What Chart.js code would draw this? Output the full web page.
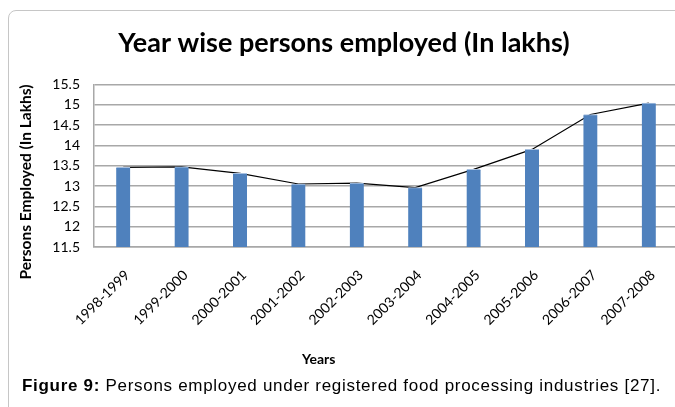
<!DOCTYPE html>
<html>
<head>
<meta charset="utf-8">
<script src="https://cdn.jsdelivr.net/npm/chart.js@4.4.0/dist/chart.umd.min.js"></script>
<style>
    body { margin: 0; width: 675px; height: 407px; overflow: hidden; background: #fff; position: relative; }
    #box { position: absolute; left: 8px; top: 10px; width: 700px; height: 420px; border: 1px solid #c6c6c6; border-radius: 8px; }
    #myChart { position: absolute; left: 0; top: 0; }
    #xtitle { position: absolute; left: 302px; top: 350px; font: bold 14px Lato, sans-serif; color: #000; }
    #ytitle { position: absolute; left: 25px; top: 183px; width: 240px; margin-left: -120px; margin-top: -10px; line-height: 20px;
        text-align: center; transform: rotate(-90deg); font: bold 15.5px Lato, sans-serif; color: #000; white-space: nowrap; }
    #caption { position: absolute; left: 22px; top: 376px; font: 17px "Liberation Sans", Arial, sans-serif; letter-spacing: 0.7px; color: #000; white-space: nowrap; }
</style>
</head>
<body>
<div id="box"></div>
<canvas id="myChart" width="690" height="407"></canvas>
<div id="xtitle">Years</div>
<div id="ytitle">Persons Employed (In Lakhs)</div>
<div id="caption"><b>Figure 9:</b> Persons employed under registered food processing industries [27].</div>
<script>
const years = ['1998-1999', '1999-2000', '2000-2001', '2001-2002', '2002-2003',
    '2003-2004', '2004-2005', '2005-2006', '2006-2007', '2007-2008'];
const persons = [13.46, 13.47, 13.31, 13.05, 13.07, 12.96, 13.41, 13.9, 14.76, 15.04];
const yTicks = [11.5, 12, 12.5, 13, 13.5, 14, 14.5, 15, 15.5];

const ctx = document.getElementById('myChart');
const myChart = new Chart(ctx, {
    data: {
        labels: years,
        datasets: [{
            type: 'bar',
            label: 'Persons employed',
            data: persons,
            backgroundColor: '#4f81bd',
            borderColor: '#a7c0e0',
            borderWidth: { top: 1, left: 0, right: 0, bottom: 0 },
            borderSkipped: false,
            barThickness: 14,
            order: 1
        },
        {
            type: 'line',
            label: 'Trend',
            data: persons,
            borderColor: '#000',
            borderWidth: 1.2,
            pointRadius: 0,
            tension: 0,
            order: 2
        }]
    },
    options: {
        responsive: false,
        animation: false,
        layout: {
            padding: { left: 10, right: 12, top: 0, bottom: 60 }
        },
        plugins: {
            legend: { display: false },
            tooltip: { enabled: false },
            title: {
                display: true,
                text: 'Year wise persons employed (In lakhs)',
                color: '#000',
                font: { family: 'Lato', size: 27, weight: 'bold' },
                padding: { top: 27, bottom: 25 }
            }
        },
        scales: {
            x: {
                grid: { display: false, drawTicks: false },
                border: { color: '#a8a8a8', width: 1.5 },
                ticks: {
                    color: '#000',
                    font: { family: 'Lato', size: 14 },
                    minRotation: 45,
                    maxRotation: 45,
                    padding: 20,
                    labelOffset: 4
                },
                afterFit: function (scale) { scale.height = 100; }
            },
            y: {
                min: 11.5,
                max: 15.5,
                afterBuildTicks: function (scale) {
                    scale.ticks = yTicks.map(v => ({ value: v }));
                },
                grid: { color: '#a8a8a8', lineWidth: 1.5, drawTicks: false },
                border: { color: '#a8a8a8', width: 1.5 },
                ticks: {
                    color: '#000',
                    font: { family: 'Lato', size: 14 },
                    padding: 14,
                    callback: function (value) { return String(value); }
                },
                afterFit: function (scale) { scale.width = 84; }
            }
        }
    }
});
</script>
</body>
</html>
